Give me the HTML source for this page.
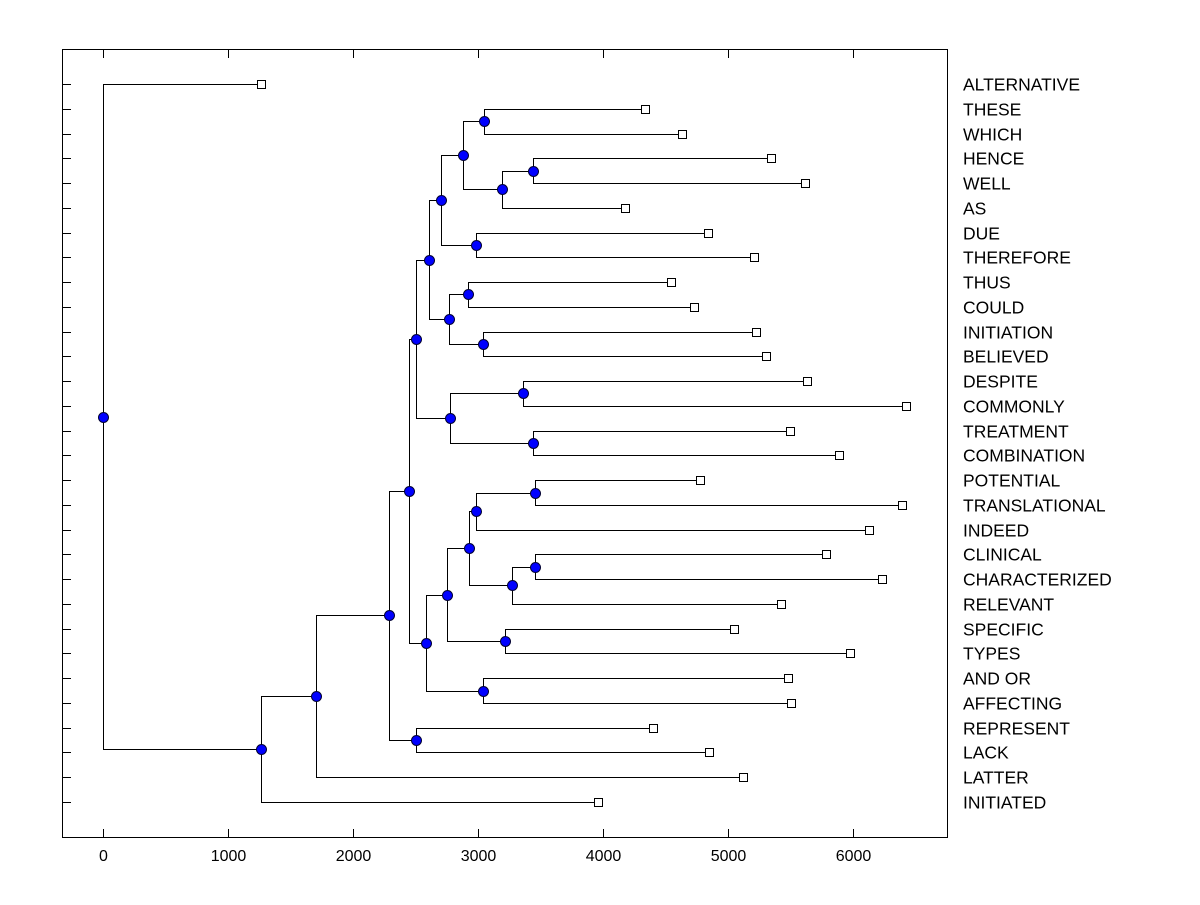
<!DOCTYPE html>
<html><head><meta charset="utf-8"><style>
body{margin:0;background:#fff}
svg text{font-family:"Liberation Sans",Arial,sans-serif;fill:#000}
</style></head><body>
<svg id="chart" width="1200" height="900" xmlns="http://www.w3.org/2000/svg">
<rect x="62.5" y="49.5" width="885" height="788" fill="none" stroke="#000" stroke-width="1"/>
<g id="g"></g>
</svg>
<script>
const labels=["ALTERNATIVE","THESE","WHICH","HENCE","WELL","AS","DUE","THEREFORE","THUS","COULD","INITIATION","BELIEVED","DESPITE","COMMONLY","TREATMENT","COMBINATION","POTENTIAL","TRANSLATIONAL","INDEED","CLINICAL","CHARACTERIZED","RELEVANT","SPECIFIC","TYPES","AND OR","AFFECTING","REPRESENT","LACK","LATTER","INITIATED"];
const leafValues=[1268,4340,4636,5348,5620,4180,4844,5212,4548,4732,5228,5308,5636,6428,5500,5892,4780,6396,6132,5788,6236,5428,5052,5980,5484,5508,4404,4852,5124,3964];
const mergeLeft=[1,3,31,30,6,33,8,10,36,35,12,14,40,39,16,44,19,46,45,22,48,24,50,43,26,53,55,56,0];
const mergeRight=[2,4,5,32,7,34,9,11,37,38,13,15,41,42,17,18,20,21,47,23,49,25,51,52,27,54,28,29,57];
const mergeHeights=[3052,3444,3196,2880,2988,2708,2924,3044,2772,2608,3364,3444,2780,2508,3460,2988,3460,3276,2932,3220,2756,3044,2588,2452,2508,2292,1708,1268,0];
const xTicks=[0,1000,2000,3000,4000,5000,6000];

const NS="http://www.w3.org/2000/svg";
const g=document.getElementById('g');
const xS=v=>102.5+v*0.125;
const yS=i=>84+i*(802-84)/29;
function el(t,a){const e=document.createElementNS(NS,t);for(const k in a)e.setAttribute(k,a[k]);g.appendChild(e);return e;}

xTicks.forEach(t=>{
  const x=Math.round(xS(t))+0.5;
  let e=el('line',{x1:x,x2:x,y1:49,y2:58,stroke:'#000'});
  
  
  e=el('line',{x1:x,x2:x,y1:829,y2:838,stroke:'#000'});
  
  
  e=el('text',{x:x,y:861,'text-anchor':'middle','font-size':'16'});
  e.textContent=t;
  
  
});

const X=[],Y=[];
labels.forEach((l,i)=>{X[i]=leafValues[i];Y[i]=yS(i);});
mergeHeights.forEach((h,k)=>{const n=30+k;X[n]=h;Y[n]=(Y[mergeLeft[k]]+Y[mergeRight[k]])/2;});

mergeHeights.forEach((h,k)=>{
  const n=30+k,a=mergeLeft[k],b=mergeRight[k];
  const x=Math.round(xS(h))+0.5;
  const p=`M${Math.round(xS(X[a]))} ${Math.round(Y[a])+0.5}H${x}V${Math.round(Y[b])+0.5}H${Math.round(xS(X[b]))}`;
  const e=el('path',{d:p,fill:'none',stroke:'#000','stroke-width':1});
  
  
});

labels.forEach((l,i)=>{
  const y=Math.round(Y[i])+0.5;
  let e=el('line',{x1:62,x2:71,y1:y,y2:y,stroke:'#000'});
  
  
  e=el('rect',{x:Math.round(xS(X[i]))-4+0.5,y:y-4,width:8,height:8,fill:'#fff',stroke:'#000'});
  
  
  e=el('text',{x:963,y:y+6,'font-size':'17.5'});
  e.textContent=l;
  
  
});

mergeHeights.forEach((h,k)=>{
  const n=30+k;
  const e=el('circle',{cx:Math.round(xS(h))+0.5,cy:Math.round(Y[n])+0.5,r:5,fill:'#0000ff',stroke:'#000033','stroke-width':1});
  
  
});
</script>
</body></html>
